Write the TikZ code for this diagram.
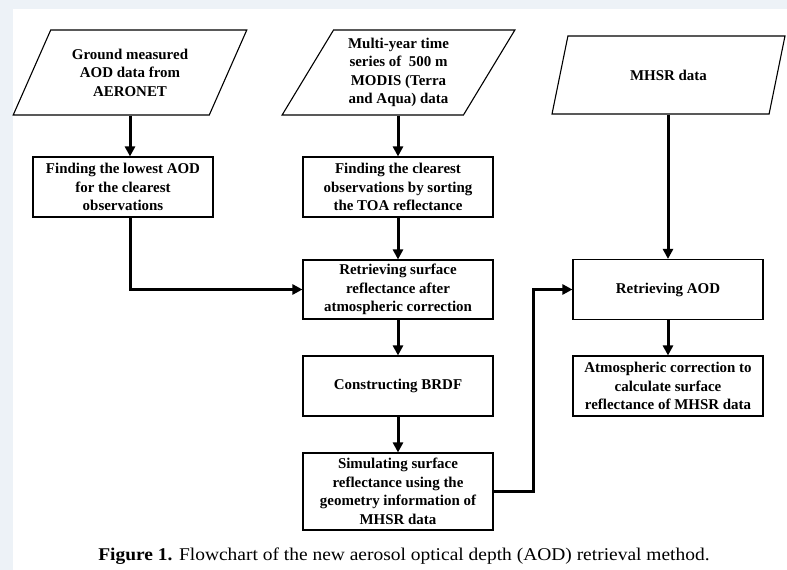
\documentclass[tikz,border=0pt]{standalone}
\usepackage{fontspec}
\setmainfont{Liberation Serif}
\usepackage{tikz}
\usetikzlibrary{shapes.geometric,arrows.meta}
\definecolor{pagebg}{RGB}{237,242,247}

\begin{document}
\begin{tikzpicture}[x=1bp,y=-1bp,
  txt/.style={font=\bfseries\fontsize{15}{18.6}\selectfont, align=center, inner sep=0pt},
  databox/.style={txt, draw, line width=1.1bp, shape=trapezium, trapezium left angle=60,
    trapezium right angle=120, trapezium stretches=true},
  stepbox/.style={txt, draw, line width=1.1bp, rectangle, minimum width=190bp, minimum height=60bp},
  flow/.style={line width=3bp, -{Triangle[length=10bp,width=10bp]}}]
% Flowchart of the AOD retrieval
\useasboundingbox (0,0) rectangle (787,570);
\fill[pagebg] (0,0) rectangle (787,570);
\fill[white] (13,9) rectangle (787,570);

\node[databox, minimum width=234bp, minimum height=85bp] (gnd) at (130,72.5)
  {Ground measured\\AOD data from\\AERONET};
\node[databox, minimum width=233bp, minimum height=85bp] (modis) at (398.5,72.5)
  {Multi-year time\\series of~~500 m\\MODIS (Terra\\and Aqua) data};
\node[databox, minimum width=233bp, minimum height=78bp] (mhsr) at (668.5,75)
  {MHSR data};

\node[stepbox, minimum width=180bp] (low) at (123,187)
  {Finding the lowest AOD\\for the clearest\\observations};
\node[stepbox] (clear) at (398,187)
  {Finding the clearest\\observations by sorting\\the TOA reflectance};
\node[stepbox, minimum height=59bp] (surf) at (398,289.5)
  {Retrieving surface\\reflectance after\\atmospheric correction};
\node[stepbox] (brdf) at (398,386) {Constructing BRDF};
\node[stepbox, minimum height=77bp] (simu) at (398,491.5)
  {Simulating surface\\reflectance using the\\geometry information of\\MHSR data};
\node[stepbox] (aod) at (668,289.5) {Retrieving AOD};
\node[stepbox] (atm) at (668,386)
  {Atmospheric correction to\\calculate surface\\reflectance of MHSR data};

\coordinate (bend) at (533,289.5);

\draw[flow] (gnd.south) -- (gnd.south |- low.north);
\draw[flow] (low.south -| gnd.south) |- (surf.west);
\draw[flow] (modis.south -| clear.north) -- (clear.north);
\draw[flow] (clear) -- (surf);
\draw[flow] (surf) -- (brdf);
\draw[flow] (brdf) -- (simu);
\draw[flow] (simu.east) -| (bend) -- (aod.west);
\draw[flow] (mhsr.south -| aod.north) -- (aod.north);
\draw[flow] (aod) -- (atm);

\node[inner sep=0pt] (cap) at (404,556)
  {\scalebox{1.085}[1]{\fontsize{18}{20}\selectfont\textbf{Figure 1.} Flowchart of the new aerosol optical depth (AOD) retrieval method.}};
\end{tikzpicture}
\end{document}
